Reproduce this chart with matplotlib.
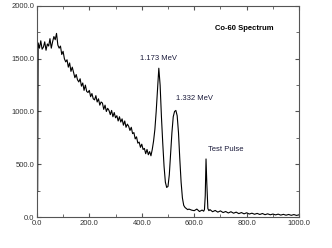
import matplotlib
matplotlib.use("Agg")
import matplotlib.pyplot as plt
from matplotlib.ticker import MultipleLocator, FormatStrFormatter

plt.rcParams['font.family'] = ['Liberation Sans', 'DejaVu Sans']

# channel numbers and counts
channel = [0, 1, 3, 5, 10, 15, 20, 25, 30, 35, 40, 45, 50, 55, 60, 65, 70, 75,
           80, 85, 90, 95, 100, 105, 110, 115, 120, 125, 130, 135, 140, 145,
           150, 155, 160, 165, 170, 175, 180, 185, 190, 195, 200, 205, 210,
           215, 220, 225, 230, 235, 240, 245, 250, 255, 260, 265, 270, 275,
           280, 285, 290, 295, 300, 305, 310, 315, 320, 325, 330, 335, 340,
           345, 350, 355, 360, 365, 370, 375, 380, 385, 390, 395, 400, 405,
           410, 415, 420, 425, 430, 435, 440, 445, 450, 455, 460, 465, 470,
           475, 480, 485, 490, 495, 500, 505, 510, 515, 520, 525, 530, 535,
           540, 545, 550, 555, 560, 565, 570, 575, 580, 590, 600, 610, 620,
           630, 636, 639, 642, 645, 648, 652, 656, 660, 670, 680, 690, 700,
           710, 720, 730, 740, 750, 760, 770, 780, 790, 800, 810, 820, 830,
           840, 850, 860, 870, 880, 890, 900, 910, 920, 930, 940, 950, 960,
           970, 980, 990, 1000]
counts = [0, 260, 240, 1650, 1600, 1670, 1590, 1610, 1660, 1580, 1640, 1620,
          1690, 1600, 1660, 1710, 1680, 1740, 1630, 1600, 1620, 1540, 1570,
          1500, 1470, 1490, 1420, 1460, 1380, 1420, 1370, 1320, 1350, 1300,
          1280, 1310, 1240, 1270, 1200, 1250, 1190, 1180, 1200, 1140, 1170,
          1120, 1110, 1150, 1090, 1120, 1060, 1090, 1080, 1020, 1060, 1000,
          1030, 1010, 970, 1010, 950, 990, 940, 960, 910, 950, 900, 930, 870,
          910, 850, 880, 860, 820, 850, 790, 800, 740, 760, 700, 710, 660,
          690, 640, 650, 600, 640, 590, 620, 580, 640, 720, 830, 1000, 1200,
          1410, 1250, 950, 700, 480, 330, 280, 290, 400, 600, 800, 950, 1000,
          1010, 960, 800, 550, 330, 180, 110, 90, 80, 70, 75, 65, 60, 75, 52,
          66, 55, 70, 200, 550, 320, 80, 60, 70, 50, 62, 46, 58, 42, 52, 38,
          50, 36, 46, 32, 42, 30, 40, 28, 36, 26, 34, 24, 33, 22, 30, 21, 28,
          20, 27, 18, 25, 17, 24, 16, 23, 15, 21]

fig = plt.figure(figsize=(3.32, 2.48), dpi=100)
ax = fig.add_axes([0.111, 0.125, 0.79, 0.851])
ax.plot(channel, counts, color='black', lw=0.8)

ax.set_xlim(0, 1000)
ax.set_ylim(0, 2000)
ax.xaxis.set_major_locator(MultipleLocator(200))
ax.xaxis.set_minor_locator(MultipleLocator(100))
ax.yaxis.set_major_locator(MultipleLocator(500))
ax.yaxis.set_minor_locator(MultipleLocator(250))
ax.xaxis.set_major_formatter(FormatStrFormatter('%.1f'))
ax.yaxis.set_major_formatter(FormatStrFormatter('%.1f'))
ax.tick_params(which='both', direction='in', top=True, right=True,
               color='#555555', labelsize=5.5, labelcolor='#333333', pad=2)
ax.tick_params(which='major', length=3)
ax.tick_params(which='minor', length=2)
for s in ax.spines.values():
    s.set_color('#555555')
    s.set_linewidth(0.8)

tc = '#1c1c3c'
ax.text(465, 1470, '1.173 MeV', fontsize=5.5, color=tc, ha='center', va='bottom')
ax.text(600, 1090, '1.332 MeV', fontsize=5.5, color=tc, ha='center', va='bottom')
ax.text(653, 610, 'Test Pulse', fontsize=5.5, color=tc, ha='left', va='bottom')
ax.text(790, 1790, 'Co-60 Spectrum', fontsize=5.5, color='black', ha='center',
        va='center', fontweight='bold')

fig.savefig('out.png', dpi=100)
